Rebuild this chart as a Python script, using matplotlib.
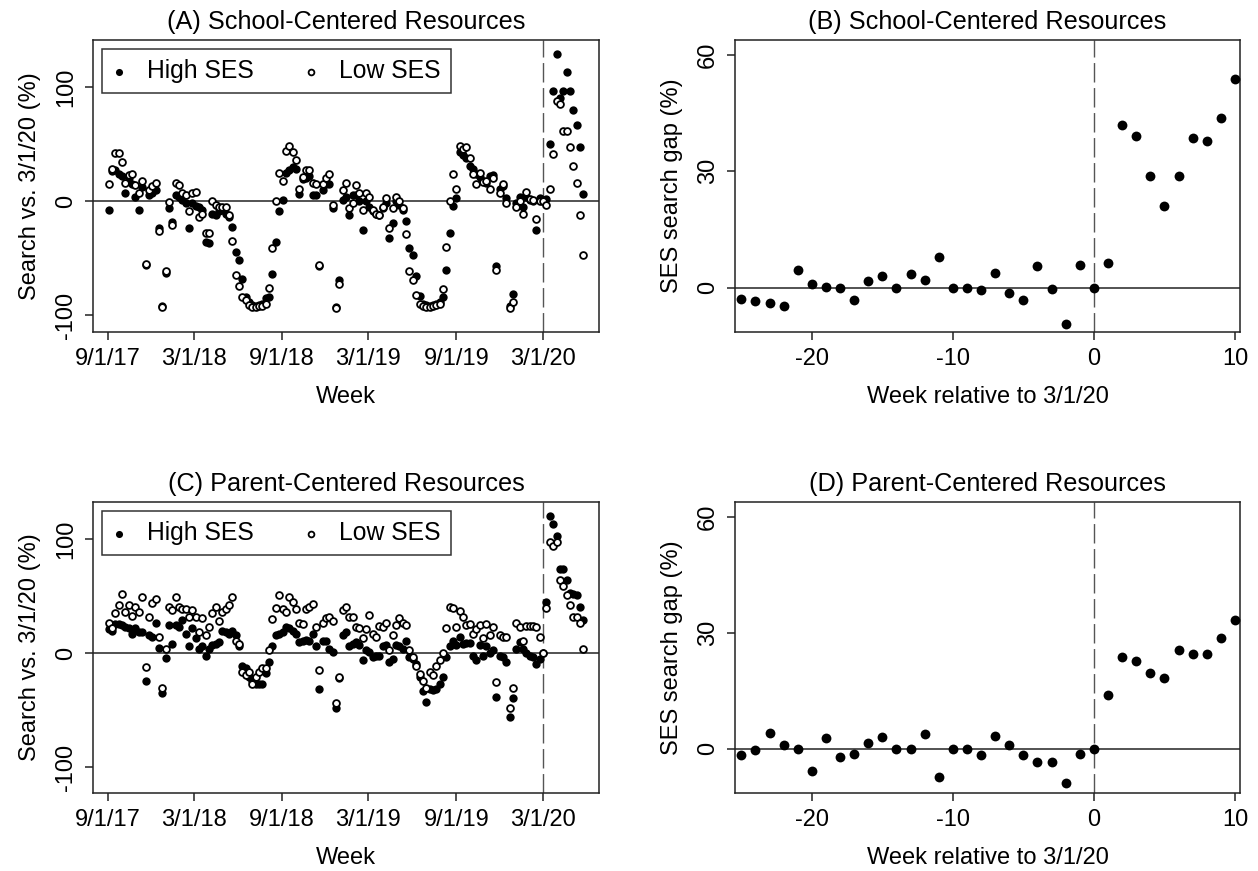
import matplotlib
matplotlib.use("Agg")
import matplotlib.pyplot as plt
import numpy as np
import pandas as pd

plt.rcParams['font.family'] = ['Liberation Sans', 'DejaVu Sans']
plt.rcParams['axes.unicode_minus'] = False

# weekly search index vs. 3/1/20 (%), weeks starting 9/3/17
weeks = pd.date_range("2017-09-03", periods=143, freq="7D")

school_high = [-8, 26, 27, 24, 22, 7, 20, 15, 4, -8, 12, -56, 5, 7, 10, -24, -92, -63, -6, -18,
               5, 4, 1, -2, -24, -2, -4, -5, -8, -36, -37, -11, -12, -9, -8, -11, -14, -23, -45, -52,
               -68, -84, -88, -91, -92, -91, -90, -85, -84, -64, -36, -9, 1, 25, 27, 30, 28, 6, 19, 20,
               22, 5, 5, -57, 10, 15, 15, -6, -93, -69, 1, 4, -12, 5, 5, 0, -25, 0, -5, -9,
               -11, -12, -6, -2, -32, -19, 0, -3, -8, -17, -41, -47, -66, -83, -90, -91, -92, -91, -90, -88,
               -84, -60, -28, -4, 3, 43, 40, 38, 31, 28, 24, 21, 18, 16, 22, 23, -57, 11, 13, 3,
               -92, -81, -2, 4, -5, 4, 1, 0, -25, 3, 0, 2, 50, 96, 129, 90, 96, 113, 96, 80,
               67, 47, 6]
school_low = [15, 28, 42, 42, 34, 16, 23, 24, 14, 7, 18, -55, 10, 13, 16, -26, -93, -61, -1, -21,
              16, 14, 7, 5, -9, 7, 8, -14, -11, -28, -28, 0, -3, -5, -5, -5, -12, -35, -65, -74,
              -84, -87, -91, -93, -93, -92, -92, -90, -76, -41, 0, 25, 18, 44, 48, 43, 36, 11, 21, 27,
              27, 16, 15, -56, 15, 20, 24, -3, -94, -73, 10, 16, -6, -2, 14, 7, -8, 7, 4, -8,
              -11, -12, -5, 3, -24, -6, 4, 0, -6, -29, -61, -69, -82, -90, -92, -93, -93, -92, -91, -90,
              -77, -40, 0, 24, 11, 48, 46, 47, 38, 24, 15, 25, 17, 18, 11, 20, -60, 7, 15, -2,
              -94, -88, -5, 0, -11, 8, 2, 1, -16, 0, 0, -3, 11, 41, 88, 85, 61, 61, 47, 31,
              16, -12, -47]

parent_high = [21, 20, 26, 26, 25, 23, 22, 17, 22, 19, 19, -24, 16, 14, 27, 5, -35, -4, 25, 8,
               25, 23, 29, 17, 6, 22, 13, 4, 6, -2, 4, 7, 8, 10, 20, 19, 17, 20, 16, 6,
               -11, -13, -21, -24, -27, -27, -27, -17, -8, 6, 16, 17, 19, 23, 22, 20, 17, 10, 11, 12,
               11, 17, 6, -31, 11, 11, 4, 1, -48, -22, 16, 19, 6, 8, 10, 7, -6, 3, 1, -3,
               -2, -2, 6, 7, -8, -5, 7, 6, 4, 11, -3, -5, -9, -21, -33, -43, -31, -32, -31, -27,
               -21, -3, 6, 11, 7, 14, 8, 9, 9, -2, -6, 7, -2, 6, 0, 3, -38, -2, -3, -8,
               -56, -39, 4, 10, 4, 0, -2, -3, -9, -5, 0, 45, 120, 113, 103, 74, 74, 64, 53, 52,
               51, 41, 29]
parent_low = [27, 22, 35, 42, 52, 36, 42, 33, 41, 36, 49, -12, 32, 44, 48, 14, -30, 4, 41, 38,
              49, 41, 39, 39, 32, 38, 32, 19, 31, 16, 23, 35, 41, 28, 36, 39, 42, 49, 11, 8,
              -16, -19, -16, -27, -21, -16, -13, -13, 3, 30, 40, 51, 39, 36, 49, 45, 39, 27, 26, 39,
              41, 43, 23, -15, 27, 31, 32, 28, -44, -21, 38, 41, 32, 32, 23, 22, 13, 21, 34, 17,
              14, 24, 23, 27, 3, 16, 25, 31, 27, 25, 3, -3, -11, -18, -24, -30, -16, -19, -11, -6,
              0, 22, 41, 40, 23, 37, 32, 25, 26, 17, 21, 25, 13, 26, 16, 23, -25, 16, 14, 14,
              -48, -30, 27, 23, 11, 24, 24, 24, 23, 14, 0, 40, 98, 94, 98, 64, 59, 51, 42, 32,
              32, 27, 4]

# SES search gap (%), weeks relative to 3/1/20
rel_week = list(range(-25, 11))
school_gap = [-2.9, -3.5, -4.0, -4.8, 4.6, 0.9, 0.3, -0.2, -3.1, 1.8, 3.1, 0.0, 3.4, 2.0, 8.0, 0.0,
              0.0, -0.6, 3.7, -1.4, -3.2, 5.7, -0.3, -9.4, 5.9, 0.0, 6.4, 41.9, 39.0, 28.7, 20.9, 28.8,
              38.4, 37.8, 43.7, 53.8]
parent_gap = [-1.5, -0.2, 4.0, 1.0, 0.0, -5.8, 2.7, -2.2, -1.4, 1.5, 3.1, 0.0, 0.0, 3.8, -7.3, 0.0,
              0.0, -1.5, 3.3, 0.9, -1.5, -3.3, -3.4, -8.9, -1.3, 0.0, 14.0, 23.6, 22.6, 19.7, 18.2, 25.6,
              24.5, 24.5, 28.6, 33.2]

date_ticks = pd.to_datetime(["2017-09-01", "2018-03-01", "2018-09-01", "2019-03-01", "2019-09-01", "2020-03-01"])
date_labels = ["9/1/17", "3/1/18", "9/1/18", "3/1/19", "9/1/19", "3/1/20"]
covid = pd.Timestamp("2020-03-01")

W, H = 1258, 871
fig = plt.figure(figsize=(W / 100, H / 100), dpi=100)


def box(l, t, r, b):
    return [l / W, 1 - b / H, (r - l) / W, (b - t) / H]


FS = 17
LFS = 17.8
TFS = 18.2
DASH = (0, (14, 4))


def style(ax):
    for s in ax.spines.values():
        s.set_linewidth(1.1)
        s.set_color("#222222")
    ax.tick_params(axis="both", direction="out", length=5.5, width=1.1, color="#222222",
                   labelsize=FS)
    ax.tick_params(axis="x", pad=6.2)
    ax.tick_params(axis="y", pad=6)
    for lab in ax.get_yticklabels():
        lab.set_rotation(90)
        lab.set_va("center")


def time_panel(ax, high, low, title, ylim):
    ax.axhline(0, color="#444444", lw=1.3, zorder=1)
    ax.axvline(covid, color="#555555", lw=1.0, ls=DASH, zorder=1)
    ax.scatter(weeks, high, s=36, color="black", lw=0, zorder=3, label="High SES")
    ax.scatter(weeks, low, s=24, facecolor="white", edgecolor="black", lw=1.3, zorder=4, label="Low SES")
    ax.set_xlim(pd.Timestamp("2017-08-01"), pd.Timestamp("2020-06-26"))
    ax.set_ylim(*ylim)
    ax.set_xticks(date_ticks)
    ax.set_xticklabels(date_labels)
    ax.set_yticks([-100, 0, 100])
    ax.set_title(title, fontsize=TFS, pad=8)
    ax.set_xlabel("Week", fontsize=FS, labelpad=11.6)
    ax.set_ylabel("Search vs. 3/1/20 (%)", fontsize=FS, labelpad=10)
    style(ax)
    leg = ax.legend(loc="upper left", ncol=2, fontsize=LFS, frameon=True, fancybox=False,
                    handlelength=0.6, handletextpad=0.83, columnspacing=2.0, borderpad=0.42,
                    borderaxespad=0.35, scatterpoints=1, markerscale=0.85)
    leg.get_frame().set_edgecolor("black")
    leg.get_frame().set_linewidth(1.1)


def gap_panel(ax, gap, title):
    ax.axhline(0, color="#444444", lw=1.3, zorder=1)
    ax.axvline(0, color="#555555", lw=1.0, ls=DASH, zorder=1)
    ax.scatter(rel_week, gap, s=50, color="black", lw=0, zorder=3)
    ax.set_xlim(-25.45, 10.36)
    ax.set_ylim(-11.4, 63.75)
    ax.set_xticks([-20, -10, 0, 10])
    ax.set_yticks([0, 30, 60])
    ax.set_title(title, fontsize=TFS, pad=8)
    ax.set_xlabel("Week relative to 3/1/20", fontsize=FS, labelpad=11.6)
    ax.set_ylabel("SES search gap (%)", fontsize=FS, labelpad=10)
    style(ax)


axA = fig.add_axes(box(93, 40, 599, 332))
axB = fig.add_axes(box(735, 40, 1240, 332))
axC = fig.add_axes(box(93, 502, 599, 793))
axD = fig.add_axes(box(735, 502, 1240, 793))

time_panel(axA, school_high, school_low, "(A) School-Centered Resources", (-114.6, 141))
gap_panel(axB, school_gap, "(B) School-Centered Resources")
time_panel(axC, parent_high, parent_low, "(C) Parent-Centered Resources", (-122.5, 132.7))
gap_panel(axD, parent_gap, "(D) Parent-Centered Resources")

fig.savefig("out.png", dpi=100)
